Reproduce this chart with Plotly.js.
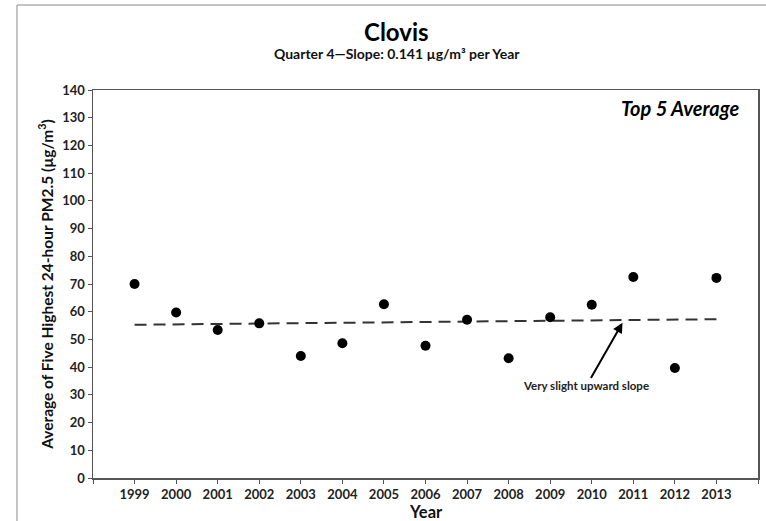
<!DOCTYPE html>
<html>
<head>
<meta charset="utf-8">
<script src="https://cdn.plot.ly/plotly-3.0.1.min.js"></script>
<style>
html,body{margin:0;padding:0;background:#fff;overflow:hidden;}
#chart{width:766px;height:521px;}
</style>
</head>
<body>
<div id="chart"></div>
<script>
const years = [1999, 2000, 2001, 2002, 2003, 2004, 2005, 2006, 2007, 2008, 2009, 2010, 2011, 2012, 2013];
const top5Avg = [70.0, 59.7, 53.4, 55.8, 44.0, 48.6, 62.7, 47.7, 57.1, 43.2, 58.0, 62.5, 72.5, 39.7, 72.2];
const trendYears = [1999, 2013];
const trendValues = [55.3, 57.3];
const tickLabels = years.map(String);

const FONT = 'Lato, "Open Sans", "DejaVu Sans", sans-serif';

const traces = [
  {
    x: trendYears, y: trendValues, type: 'scatter', mode: 'lines',
    line: {color: '#333333', width: 2, dash: '12px,7px'},
    hoverinfo: 'skip', showlegend: false
  },
  {
    x: years, y: top5Avg, type: 'scatter', mode: 'markers',
    marker: {color: '#000000', size: 10},
    showlegend: false
  }
];

const layout = {
  width: 766, height: 521,
  margin: {l: 93, r: 8, t: 90, b: 43},
  paper_bgcolor: '#ffffff', plot_bgcolor: '#ffffff',
  font: {family: FONT, color: '#222222'},
  showlegend: false,
  xaxis: {
    range: [1998, 2014],
    tickmode: 'array', tickvals: years, ticktext: tickLabels,
    ticks: 'outside', ticklen: 4, tickcolor: '#555555', tickwidth: 1,
    minor: {ticks: 'outside', ticklen: 4, tickcolor: '#555555', tickwidth: 1, tick0: 1998, dtick: 1, showgrid: false},
    showgrid: false, zeroline: false,
    showline: true, mirror: true, linecolor: '#555555', linewidth: 1.5,
    tickfont: {family: FONT, size: 13, color: '#222222', weight: 'bold'},
    automargin: false
  },
  yaxis: {
    range: [0, 140], tickmode: 'linear', tick0: 0, dtick: 10,
    ticks: 'outside', ticklen: 4, tickcolor: '#555555', tickwidth: 1,
    showgrid: false, zeroline: false,
    showline: true, mirror: true, linecolor: '#555555', linewidth: 1.5,
    tickfont: {family: FONT, size: 13, color: '#222222', weight: 'bold'},
    title: {text: '<b>Average of Five Highest 24-hour PM2.5 (µg/m<sup>3</sup>)</b>', font: {family: FONT, size: 15.5, color: '#111111'}, standoff: 5},
    automargin: false
  },
  annotations: [
    {xref: 'paper', yref: 'paper', x: 0.4564, y: 1.152, xanchor: 'center', yanchor: 'middle',
     text: '<b>Clovis</b>', showarrow: false, font: {family: FONT, size: 24, color: '#000000'}},
    {xref: 'paper', yref: 'paper', x: 0.4564, y: 1.095, xanchor: 'center', yanchor: 'middle',
     text: '<b>Quarter 4—Slope: 0.141 µg/m³ per Year</b>', showarrow: false, font: {family: FONT, size: 14, color: '#111111'}},
    {xref: 'paper', yref: 'paper', x: 0.5, y: -0.0876, xanchor: 'center', yanchor: 'middle',
     text: '<b>Year</b>', showarrow: false, font: {family: FONT, size: 16.5, color: '#111111'}},
    {xref: 'paper', yref: 'paper', x: 0.974, y: 0.954, xanchor: 'right', yanchor: 'middle',
     text: '<b><i>Top 5 Average</i></b>', showarrow: false, font: {family: FONT, size: 20, color: '#000000'}},
    {xref: 'x', yref: 'y', x: 2010.74, y: 56.0, axref: 'x', ayref: 'y', ax: 2009.87, ay: 33.2,
     text: '<b>Very slight upward slope</b>', showarrow: true, arrowhead: 2, arrowsize: 1, arrowwidth: 2,
     arrowcolor: '#000000', font: {family: FONT, size: 11.5, color: '#222222'}}
  ],
  shapes: [
    {type: 'line', xref: 'paper', yref: 'paper', x0: -0.1143, x1: 1.02, y0: 1.219, y1: 1.219,
     line: {color: '#b0b0b0', width: 1.5}},
    {type: 'line', xref: 'paper', yref: 'paper', x0: -0.1143, x1: -0.1143, y0: 1.219, y1: -0.12,
     line: {color: '#b0b0b0', width: 1.5}}
  ]
};

Plotly.newPlot('chart', traces, layout, {displayModeBar: false, staticPlot: true});
</script>
</body>
</html>
